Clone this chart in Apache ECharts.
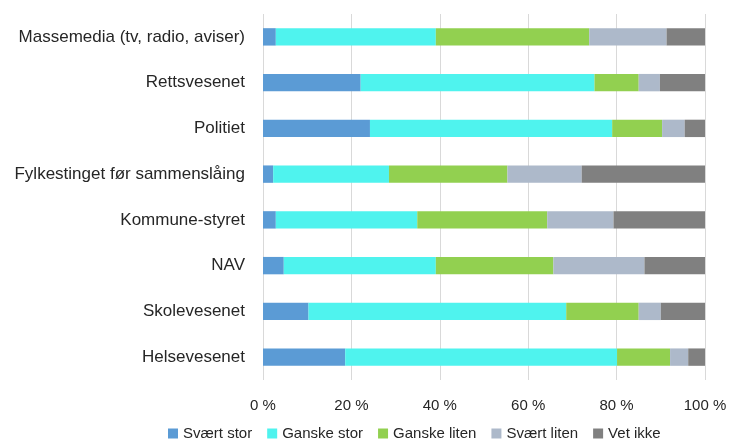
<!DOCTYPE html>
<html><head><meta charset="utf-8">
<script src="https://cdn.jsdelivr.net/npm/echarts@6/dist/echarts.min.js"></script>
<style>html,body{margin:0;padding:0;background:#fff}#c{width:731px;height:446px}</style>
</head><body><div id="c"></div>
<script>
const categories = ["Massemedia (tv, radio, aviser)", "Rettsvesenet", "Politiet", "Fylkestinget før sammenslåing", "Kommune-styret", "NAV", "Skolevesenet", "Helsevesenet"];
const seriesNames = ["Svært stor", "Ganske stor", "Ganske liten", "Svært liten", "Vet ikke"];
const svaertStor   = [2.9, 22.1, 24.2, 2.3, 2.9, 4.7, 10.3, 18.6];
const ganskeStor   = [36.2, 52.9, 54.8, 26.2, 32.0, 34.4, 58.3, 61.5];
const ganskeLiten  = [34.7, 10.0, 11.3, 26.8, 29.4, 26.6, 16.4, 12.0];
const svaertLiten  = [17.5, 4.8, 5.1, 16.8, 15.0, 20.6, 5.0, 4.1];
const vetIkke      = [8.7, 10.2, 4.6, 27.9, 20.7, 13.7, 10.0, 3.8];
const xTicks = [0, 20, 40, 60, 80, 100];
const colors = ["#5B9BD5", "#4FF3EE", "#92D050", "#ADB9CA", "#808080"];
const values = [svaertStor, ganskeStor, ganskeLiten, svaertLiten, vetIkke];
const font = "Liberation Sans, Arial, sans-serif";
const chart = echarts.init(document.getElementById('c'));
chart.setOption({
  animation: false,
  color: colors,
  grid: {left: 263, right: 26, top: 14, bottom: 66, containLabel: false},
  legend: {
    bottom: 0, left: 163, itemWidth: 10, itemHeight: 10, itemGap: 15,
    icon: 'rect',
    textStyle: {fontFamily: font, fontSize: 15, color: '#262626'},
    data: seriesNames
  },
  xAxis: {
    type: 'value', min: xTicks[0], max: xTicks[xTicks.length-1], interval: 20,
    axisLine: {show: false}, axisTick: {show: false},
    splitLine: {lineStyle: {color: '#d9d9d9', width: 1}},
    axisLabel: {formatter: v => v + ' %', fontFamily: font, fontSize: 15, color: '#262626', margin: 18}
  },
  yAxis: {
    type: 'category', data: categories, inverse: true,
    axisLine: {show: false}, axisTick: {show: false},
    axisLabel: {fontFamily: font, fontSize: 17, color: '#262626', margin: 18}
  },
  series: seriesNames.map((n, i) => ({
    name: n, type: 'bar', stack: 'total', data: values[i],
    barCategoryGap: '62%',
    itemStyle: {color: colors[i]}
  }))
});
</script></body></html>
